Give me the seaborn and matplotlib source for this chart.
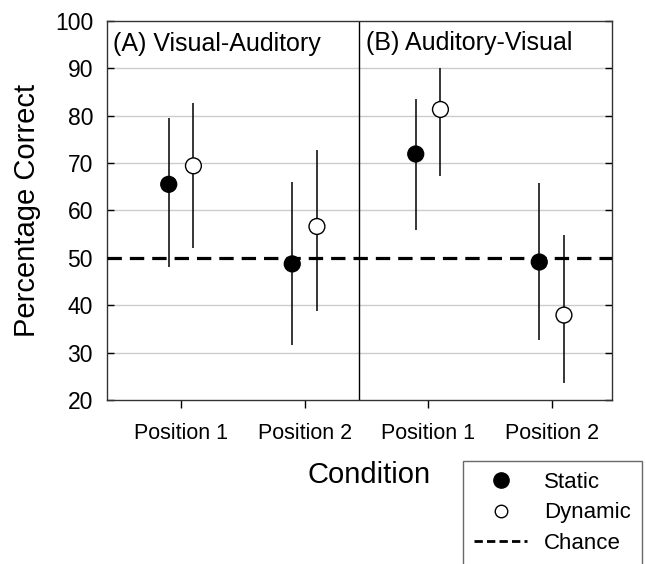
import numpy as np
import pandas as pd
import seaborn as sns
import matplotlib.pyplot as plt
from matplotlib.lines import Line2D

# Data
conditions = ["Position 1", "Position 2", "Position 1", "Position 2"]
panels = ["(A) Visual-Auditory", "(B) Auditory-Visual"]
static_mean = [65.5, 48.7, 71.9, 49.1]
static_low = [48.0, 31.5, 55.9, 32.7]
static_high = [79.6, 66.0, 83.6, 65.7]
dynamic_mean = [69.4, 56.6, 81.3, 37.9]
dynamic_low = [52.1, 38.8, 67.2, 23.5]
dynamic_high = [82.6, 72.7, 90.1, 54.7]
chance = 50

sns.set_theme(style="white")
plt.rcParams['font.family'] = ['Liberation Sans', 'DejaVu Sans']
plt.rcParams['text.color'] = 'black'
plt.rcParams['axes.labelcolor'] = 'black'
plt.rcParams['xtick.color'] = 'black'
plt.rcParams['ytick.color'] = 'black'

pos = np.arange(1, 5)
df = pd.DataFrame({
    "x": np.concatenate([pos - 0.1, pos + 0.1]),
    "mean": static_mean + dynamic_mean,
    "low": static_low + dynamic_low,
    "high": static_high + dynamic_high,
    "group": ["Static"] * 4 + ["Dynamic"] * 4,
})

fig = plt.figure(figsize=(6.46, 5.64), dpi=100)
ax = fig.add_axes([0.1656, 0.291, 0.781, 0.672])

# grid lines
for g in [30, 40, 60, 70, 80, 90]:
    ax.axhline(g, color="#cccccc", lw=1, zorder=0)

ax.vlines(df["x"], df["low"], df["high"], color="black", lw=1.1, zorder=2)
ax.axhline(chance, color="black", ls=(0, (4.5, 2.5)), lw=2.3, zorder=3)
sns.scatterplot(data=df, x="x", y="mean", hue="group", style="group",
                palette={"Static": "black", "Dynamic": "white"},
                markers={"Static": "o", "Dynamic": "o"},
                s=130, edgecolor="black", linewidth=1, legend=False,
                zorder=4, ax=ax)

ax.axvline(2.44, color="black", lw=1)
ax.set_xlim(0.4, 4.485)
ax.set_ylim(20, 100)
ax.set_xticks(pos)
ax.set_xticklabels(conditions, fontsize=15.5)
ax.set_yticks(range(20, 101, 10))
ax.tick_params(axis="y", labelsize=16.5, direction="in", left=True, right=True,
               length=5, width=1, colors="black", pad=10)
ax.tick_params(axis="x", direction="out", bottom=True, length=6, width=1,
               pad=11, colors="black")
for sp in ax.spines.values():
    sp.set_color("#333333")
    sp.set_linewidth(1)

ax.set_xlabel("Condition", fontsize=21)
ax.xaxis.set_label_coords(0.52, -0.198)
ax.xaxis.label.set_va("center")
ax.set_ylabel("Percentage Correct", fontsize=21)
ax.yaxis.set_label_coords(-0.158, 0.5)
ax.yaxis.label.set_va("center")

ax.text(0.45, 95.2, panels[0], fontsize=18, va="center", ha="left")
ax.text(2.5, 95.4, panels[1], fontsize=18, va="center", ha="left")

handles = [
    Line2D([], [], marker="o", ls="none", color="black", markersize=11),
    Line2D([], [], marker="o", ls="none", markerfacecolor="white",
           markeredgecolor="black", markersize=9),
    Line2D([], [], color="black", ls=(0, (3, 1.5)), lw=2),
]
leg = fig.legend(handles, ["Static", "Dynamic", "Chance"], loc="upper left",
                 bbox_to_anchor=(463 / 646, 1 - 461 / 564), fontsize=16,
                 frameon=True, fancybox=False, edgecolor="#444444",
                 borderpad=0.5, labelspacing=0.42, handlelength=2.4,
                 handletextpad=0.75, borderaxespad=0)
leg.get_frame().set_linewidth(1)

fig.savefig("out.png", dpi=100)
